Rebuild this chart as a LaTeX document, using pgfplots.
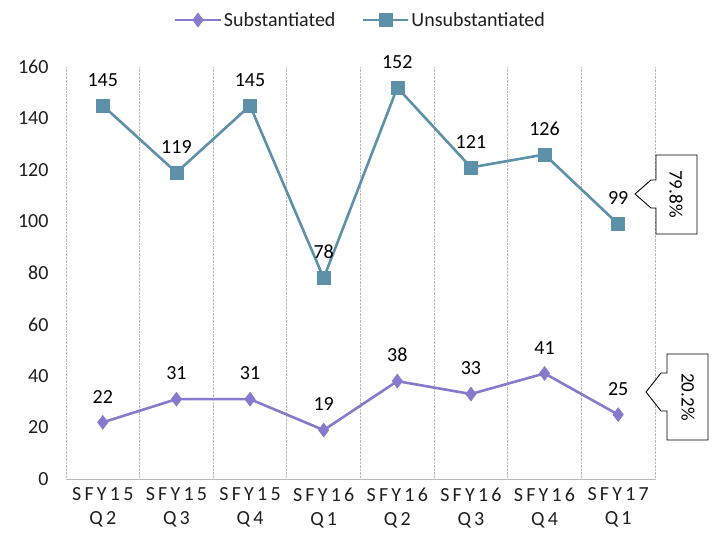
\documentclass[border=0pt]{standalone}
\usepackage{fontspec}
\setmainfont{Carlito}
\usepackage{pgfplots}
\pgfplotsset{compat=1.18}
\definecolor{subc}{RGB}{134,122,204}
\definecolor{unsc}{RGB}{93,145,170}
\definecolor{gridc}{RGB}{185,185,185}
\definecolor{txtc}{RGB}{30,30,30}
\begin{document}
\begin{tikzpicture}[font=\fontsize{20bp}{24bp}\selectfont]
\useasboundingbox (-66bp,-57bp) rectangle (646bp,479bp);
\begin{axis}[
  at={(0,0)}, anchor=south west, scale only axis,
  width=589bp, height=412bp,
  xmin=0, xmax=8, ymin=0, ymax=160,
  /pgf/number format/assume math mode=true,
  xtick={0.5,1.5,2.5,3.5,4.5,5.5,6.5,7.5},
  xticklabels={{SFY15\\Q2},{SFY15\\Q3},{SFY15\\Q4},{SFY16\\Q1},{SFY16\\Q2},{SFY16\\Q3},{SFY16\\Q4},{SFY17\\Q1}},
  xticklabel style={align=center, text=txtc, font=\addfontfeature{LetterSpace=16}\fontsize{20bp}{24bp}\selectfont, yshift=-5bp},
  minor xtick={0,1,2,3,4,5,6,7,8},
  xminorgrids,
  minor grid style={gridc, densely dotted, line width=0.9bp},
  ytick={0,20,...,160},
  yticklabel style={text=txtc, xshift=-14bp},
  tick style={draw=none},
  major tick length=0pt, minor tick length=0pt,
  axis line style={draw=none},
  legend style={at={(0.50,1.114)}, anchor=center, draw=none, fill=none,
    legend columns=2, /tikz/every even column/.append style={column sep=24bp},
    font=\fontsize{20bp}{24bp}\selectfont, text=txtc},
  legend image code/.code={\draw[mark repeat=2,mark phase=2] plot coordinates {(0cm,0cm) (0.8cm,0cm) (1.6cm,0cm)};},
  nodes near coords,
  every node near coord/.append style={text=black, inner sep=0pt, yshift=19bp, font=\fontsize{20bp}{24bp}\selectfont},
  clip=false,
]
\addplot[color=subc, line width=2.6bp, mark=diamond*, mark size=7bp, mark options={fill=subc, line width=0.5bp}]
  coordinates {(0.5,22) (1.5,31) (2.5,31) (3.5,19) (4.5,38) (5.5,33) (6.5,41) (7.5,25)};
\addlegendentry{Substantiated}
\addplot[color=unsc, line width=2.6bp, mark=square*, mark size=6.5bp, mark options={fill=unsc, line width=0.5bp}]
  coordinates {(0.5,145) (1.5,119) (2.5,145) (3.5,78) (4.5,152) (5.5,121) (6.5,126) (7.5,99)};
\addlegendentry{Unsubstantiated}
\draw[gridc, line width=0.9bp] (rel axis cs:0,0) -- (rel axis cs:1,0);
\end{axis}
% callouts
\draw[black, line width=0.9bp, fill=white] (590bp,324bp) -- (631bp,324bp) -- (631bp,245bp) -- (590bp,245bp) -- (590bp,271bp) -- (585bp,271bp) -- (569bp,285bp) -- (585bp,299bp) -- (590bp,299bp) -- cycle;
\node[rotate=-90, font=\fontsize{19bp}{22bp}\selectfont] at (610bp,285bp) {79.8\%};
\draw[black, line width=0.9bp, fill=white] (601bp,125bp) -- (642bp,125bp) -- (642bp,39bp) -- (601bp,39bp) -- (601bp,68bp) -- (595bp,68bp) -- (580bp,87bp) -- (595bp,106bp) -- (601bp,106bp) -- cycle;
\node[rotate=-90, font=\fontsize{19bp}{22bp}\selectfont] at (622bp,82bp) {20.2\%};
\end{tikzpicture}
\end{document}
